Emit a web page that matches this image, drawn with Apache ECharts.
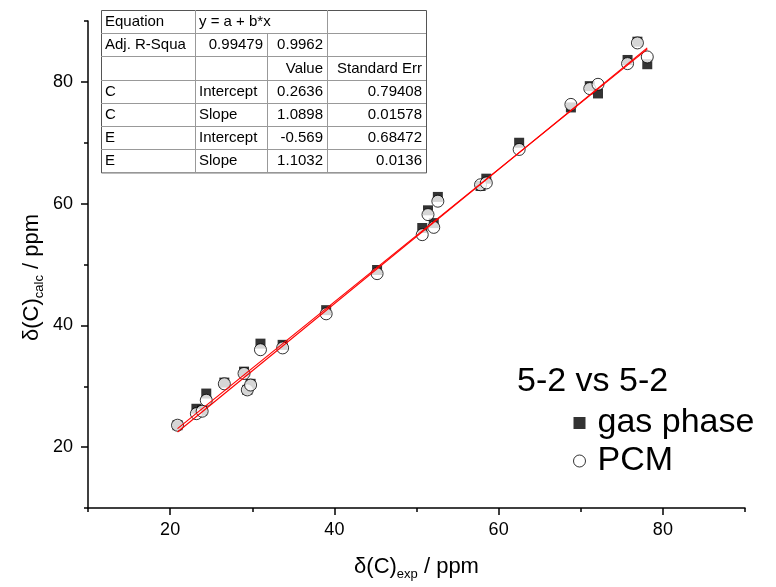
<!DOCTYPE html>
<html>
<head>
<meta charset="utf-8">
<script src="https://cdn.jsdelivr.net/npm/echarts@6/dist/echarts.min.js"></script>
<style>html,body{margin:0;padding:0;background:#fff}#c{width:776px;height:587px}</style>
</head>
<body>
<div id="c"></div>
<script>
// ---- data ----
const xExp    = [20.9, 23.2, 23.9, 24.4, 26.6, 29.0, 29.4, 29.8, 31.0, 33.7, 39.0, 45.2, 50.7, 51.4, 52.1, 52.6, 57.8, 58.5, 62.5, 68.8, 71.1, 72.1, 75.7, 76.9, 78.1];
const gasCalc = [23.6, 26.3, 26.0, 28.8, 30.6, 32.4, 29.4, 30.4, 37.0, 36.8, 42.5, 49.1, 56.0, 58.9, 56.8, 61.1, 62.9, 64.1, 70.0, 75.8, 79.3, 78.1, 83.6, 86.6, 82.9];
const pcmCalc = [23.6, 25.5, 25.9, 27.7, 30.4, 32.1, 29.4, 30.2, 36.0, 36.3, 41.9, 48.5, 54.9, 58.2, 56.1, 60.4, 63.1, 63.4, 68.9, 76.3, 78.9, 79.6, 83.0, 86.4, 84.1];
const seriesNames = ['gas phase', 'PCM'];
const fitIntercept = [0.2636, -0.569];
const fitSlope = [1.0898, 1.1032];
const majorTicks = [20, 40, 60, 80];
const legendTitle = '5-2 vs 5-2';
const tableRows = [
  ['Equation', 'y = a + b*x', '', ''],
  ['Adj. R-Squa', '0.99479', '0.9962', ''],
  ['', '', 'Value', 'Standard Err'],
  ['C', 'Intercept', '0.2636', '0.79408'],
  ['C', 'Slope', '1.0898', '0.01578'],
  ['E', 'Intercept', '-0.569', '0.68472'],
  ['E', 'Slope', '1.1032', '0.0136']
];

// ---- build ----
const FONT = 'Liberation Sans, Arial, sans-serif';
const chart = echarts.init(document.getElementById('c'), null, {renderer: 'canvas'});

const gasData = xExp.map((x, i) => [x, gasCalc[i]]);
const pcmData = xExp.map((x, i) => [x, pcmCalc[i]]);
const xMin = Math.min(...xExp), xMax = Math.max(...xExp);
const fitData = fitIntercept.map((a, k) => [[xMin, a + fitSlope[k] * xMin], [xMax, a + fitSlope[k] * xMax]]);

// table graphics
const colX = [101, 195, 267, 327, 426];
const tTop = 10, rowH = 23.2;
const tableEls = [];
tableEls.push({type: 'rect', shape: {x: colX[0] + 0.5, y: tTop + 0.5, width: colX[4] - colX[0], height: rowH * tableRows.length}, style: {fill: '#fff', stroke: '#555', lineWidth: 1}, z: 10});
for (let i = 1; i < tableRows.length; i++) {
  const y = Math.round(tTop + i * rowH) + 0.5;
  tableEls.push({type: 'line', shape: {x1: colX[0], y1: y, x2: colX[4], y2: y}, style: {stroke: '#999', lineWidth: 1}, z: 11});
}
for (let c = 1; c < 4; c++) {
  const x = colX[c] + 0.5;
  const yStart = (c === 2) ? tTop + rowH : tTop;
  tableEls.push({type: 'line', shape: {x1: x, y1: yStart, x2: x, y2: tTop + rowH * tableRows.length}, style: {stroke: '#999', lineWidth: 1}, z: 11});
}
tableRows.forEach((row, r) => {
  row.forEach((txt, c) => {
    if (!txt) return;
    const leftAlign = (c === 0) || (r === 0) || (r >= 3 && c === 1);
    const cy = tTop + r * rowH + rowH / 2 + 0.5;
    tableEls.push({
      type: 'text', z: 12,
      x: leftAlign ? colX[c] + 4 : colX[c + 1] - 4, y: cy,
      style: {text: txt, fill: '#000', font: '15px ' + FONT, textAlign: leftAlign ? 'left' : 'right', textVerticalAlign: 'middle'}
    });
  });
});

const axisCommon = {
  type: 'value', min: 10, max: 90, interval: 10,
  splitLine: {show: false}
};
const titleRich = {
  a: {fontSize: 22, fontFamily: FONT, color: '#000', lineHeight: 28, verticalAlign: 'middle'},
  s: {fontSize: 13, fontFamily: FONT, color: '#000', lineHeight: 14, verticalAlign: 'bottom'}
};

const option = {
  backgroundColor: '#fff',
  animation: false,
  grid: {left: 88, right: 31, top: 21, bottom: 79},
  xAxis: [
    Object.assign({}, axisCommon, {
      position: 'bottom',
      axisLine: {show: true, lineStyle: {color: '#000', width: 1.5}},
      axisTick: {show: true, inside: false, length: 4, lineStyle: {color: '#000', width: 1.5}},
      axisLabel: {show: false},
      name: '{a|δ(C)}{s|exp}{a| / ppm}',
      nameLocation: 'middle', nameGap: 45,
      nameTextStyle: {rich: titleRich}
    }),
    Object.assign({}, axisCommon, {
      position: 'bottom',
      axisLine: {show: false},
      axisTick: {show: true, inside: false, length: 7, customValues: majorTicks, lineStyle: {color: '#000', width: 1.5}},
      axisLabel: {show: true, customValues: majorTicks, margin: 13, fontSize: 18, fontFamily: FONT, color: '#000'}
    })
  ],
  yAxis: [
    Object.assign({}, axisCommon, {
      position: 'left',
      axisLine: {show: true, lineStyle: {color: '#000', width: 1.5}},
      axisTick: {show: true, inside: false, length: 4, lineStyle: {color: '#000', width: 1.5}},
      axisLabel: {show: false},
      name: '{a|δ(C)}{s|calc}{a| / ppm}',
      nameLocation: 'middle', nameGap: 42,
      nameTextStyle: {rich: titleRich, padding: [0, 26, 0, 0]}
    }),
    Object.assign({}, axisCommon, {
      position: 'left',
      axisLine: {show: false},
      axisTick: {show: true, inside: false, length: 7, customValues: majorTicks, lineStyle: {color: '#000', width: 1.5}},
      axisLabel: {show: true, customValues: majorTicks, margin: 15, fontSize: 18, fontFamily: FONT, color: '#000'}
    })
  ],
  legend: {
    orient: 'vertical', left: 568, top: 400,
    itemWidth: 12, itemHeight: 12, itemGap: 2,
    textStyle: {fontSize: 34, fontFamily: FONT, color: '#000', padding: [0, 0, 0, 7], lineHeight: 36},
    data: [
      {name: seriesNames[0], icon: 'rect'},
      {name: seriesNames[1], icon: 'circle', itemStyle: {color: '#fff', borderColor: '#000', borderWidth: 1}}
    ]
  },
  graphic: [
    {type: 'text', left: 517, top: 365, style: {text: legendTitle, font: '34px ' + FONT, fill: '#000'}},
    {type: 'group', children: tableEls}
  ],
  series: [
    {name: seriesNames[0], type: 'scatter', xAxisIndex: 0, yAxisIndex: 0, data: gasData,
     symbol: 'rect', symbolSize: 10, itemStyle: {color: '#000'}, z: 2},
    {name: seriesNames[1], type: 'scatter', xAxisIndex: 0, yAxisIndex: 0, data: pcmData,
     symbol: 'circle', symbolSize: 12, itemStyle: {color: '#fff', borderColor: '#000', borderWidth: 1}, z: 3},
    {name: 'fitC', type: 'line', xAxisIndex: 0, yAxisIndex: 0, data: fitData[0], symbol: 'none',
     lineStyle: {color: '#ff0000', width: 1.2}, z: 4, silent: true},
    {name: 'fitE', type: 'line', xAxisIndex: 0, yAxisIndex: 0, data: fitData[1], symbol: 'none',
     lineStyle: {color: '#ff0000', width: 1.2}, z: 4, silent: true}
  ]
};
chart.setOption(option);
</script>
</body>
</html>
